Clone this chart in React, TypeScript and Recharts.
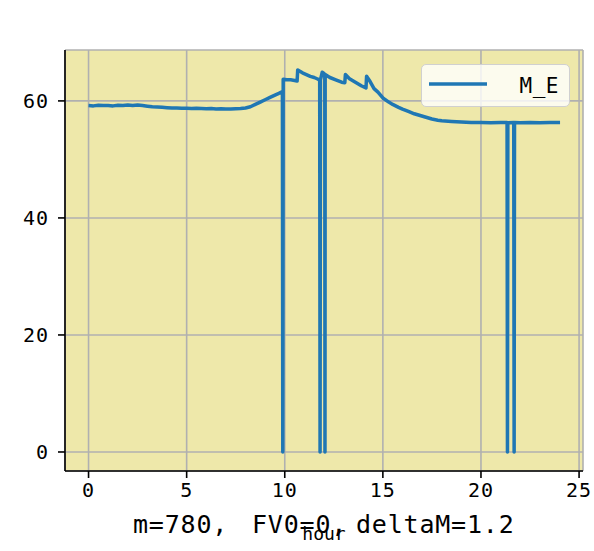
import { LineChart, Line, XAxis, YAxis, CartesianGrid, Legend, Label } from 'recharts';

// hours of the day vs M_E reading
const HOURS = [
  0, 0.25, 0.5, 0.75, 1, 1.25, 1.5, 1.75, 2, 2.25, 2.5, 2.75, 3, 3.25, 3.5, 3.75,
  4, 4.25, 4.5, 4.75, 5, 5.25, 5.5, 5.75, 6, 6.25, 6.5, 6.75, 7, 7.25, 7.5, 7.75,
  8, 8.25, 8.5, 8.75, 9, 9.25, 9.5, 9.7, 9.88,
  9.9, 9.92, 10.1, 10.3, 10.5, 10.63, 10.66, 10.9, 11.1, 11.3, 11.5, 11.7, 11.78,
  11.8, 11.82, 11.91, 12.0, 12.04,
  12.05, 12.06, 12.3, 12.6, 12.9, 13.06, 13.09, 13.3, 13.6, 13.9, 14.14, 14.17,
  14.35, 14.55, 14.75, 15.0, 15.3, 15.5, 15.8, 16.0, 16.3, 16.6, 16.9, 17.2, 17.5,
  17.8, 18.0, 18.5, 19.0, 19.5, 20.0, 20.5, 21.0, 21.33,
  21.35, 21.37, 21.67,
  21.69, 21.71, 22.0, 22.5, 23.0, 23.5, 24.03,
];

const M_E = [
  59.2, 59.15, 59.25, 59.2, 59.2, 59.15, 59.25, 59.2, 59.3, 59.2, 59.3, 59.2, 59.1, 59.0, 58.95, 58.9,
  58.85, 58.8, 58.8, 58.75, 58.75, 58.7, 58.75, 58.7, 58.65, 58.7, 58.6, 58.65, 58.6, 58.6, 58.65, 58.7,
  58.8, 59.0, 59.4, 59.8, 60.2, 60.6, 61.0, 61.3, 61.6,
  0, 63.7, 63.6, 63.6, 63.5, 63.4, 65.3, 64.8, 64.5, 64.2, 64.0, 63.7, 63.6,
  0, 63.6, 64.9, 64.7, 64.5,
  0, 64.5, 64.0, 63.6, 63.2, 63.1, 64.5, 63.8, 63.2, 62.6, 62.2, 64.2,
  63.3, 62.1, 61.5, 60.5, 59.8, 59.4, 58.9, 58.6, 58.2, 57.8, 57.5, 57.2, 56.9,
  56.7, 56.6, 56.5, 56.4, 56.3, 56.3, 56.25, 56.3, 56.3,
  0, 56.25, 56.3,
  0, 56.3, 56.25, 56.3, 56.25, 56.3, 56.3,
];

const X_TICKS = [0, 5, 10, 15, 20, 25];
const Y_TICKS = [0, 20, 40, 60];
const TITLE_PARTS = ['m=780,', 'FV0=0,', 'deltaM=1.2'];
const TITLE_X = [133, 252, 356];

const data = HOURS.map((hour, i) => ({ hour, M_E: M_E[i] }));

const FONT = '"DejaVu Sans Mono", monospace';
const tickStyle = { fontSize: 20, fill: '#000', fontFamily: FONT, letterSpacing: 1 };

function LegendBox() {
  return (
    <div style={{ width: 149, height: 43, boxSizing: 'border-box', border: '1.5px solid #d0d0d0', borderRadius: 5, background: 'rgba(255,255,255,0.8)', position: 'relative' }}>
      <svg width={149} height={43} style={{ position: 'absolute', left: -1.5, top: -1.5 }}>
        <line x1={8} x2={66} y1={20} y2={20} stroke="#1f77b4" strokeWidth={3.5} />
        <text x={138} y={29} textAnchor="end" fontSize={21} fontFamily={FONT} letterSpacing={0.5}>M_E</text>
      </svg>
    </div>
  );
}

export default function App() {
  return (
    <div style={{ position: 'absolute', left: 0, top: 0, width: 594, height: 551, background: '#fff' }}>
      <LineChart width={594} height={551} data={data} margin={{ top: 50, right: 11, bottom: 0, left: 0 }}>
        <CartesianGrid fill="#EEE8AA" fillOpacity={1} stroke="#b0b0b0" strokeWidth={1.6} />
        <XAxis
          dataKey="hour"
          type="number"
          domain={[-1.2, 25.2]}
          ticks={X_TICKS}
          allowDataOverflow
          height={80}
          tick={tickStyle}
          tickSize={7}
          tickMargin={5}
          stroke="#000"
          strokeWidth={1.6}
        >
          <Label value="hour" position="insideBottom" offset={11} style={{ fontSize: 18, fontFamily: FONT, fill: '#000' }} />
        </XAxis>
        <XAxis xAxisId="top" orientation="top" type="number" domain={[-1.2, 25.2]} height={0} tick={false} tickLine={false} stroke="#000" strokeWidth={1.6} />
        <YAxis
          type="number"
          domain={[-3.25, 68.7]}
          ticks={Y_TICKS}
          allowDataOverflow
          width={65}
          tick={tickStyle}
          tickSize={7}
          tickMargin={9}
          stroke="#000"
          strokeWidth={1.6}
        />
        <YAxis yAxisId="right" orientation="right" type="number" domain={[-3.25, 68.7]} width={0} tick={false} tickLine={false} stroke="#000" strokeWidth={1.6} />
        <Legend
          layout="horizontal"
          verticalAlign="middle"
          align="center"
          content={() => <LegendBox />}
          wrapperStyle={{ left: 421, top: 64, width: 149, height: 43 }}
        />
        <Line
          dataKey="M_E"
          type="linear"
          stroke="#1f77b4"
          strokeWidth={3.5}
          strokeLinejoin="round"
          dot={false}
          isAnimationActive={false}
        />
      </LineChart>
      <svg width={594} height={551} style={{ position: 'absolute', left: 0, top: 0, pointerEvents: 'none' }}>
        <text y={533} fontSize={25} fontFamily={FONT} letterSpacing={0.8} fill="#000">
          {TITLE_PARTS.map((p, i) => (
            <tspan key={p} x={TITLE_X[i]}>{p}</tspan>
          ))}
        </text>
      </svg>
    </div>
  );
}
